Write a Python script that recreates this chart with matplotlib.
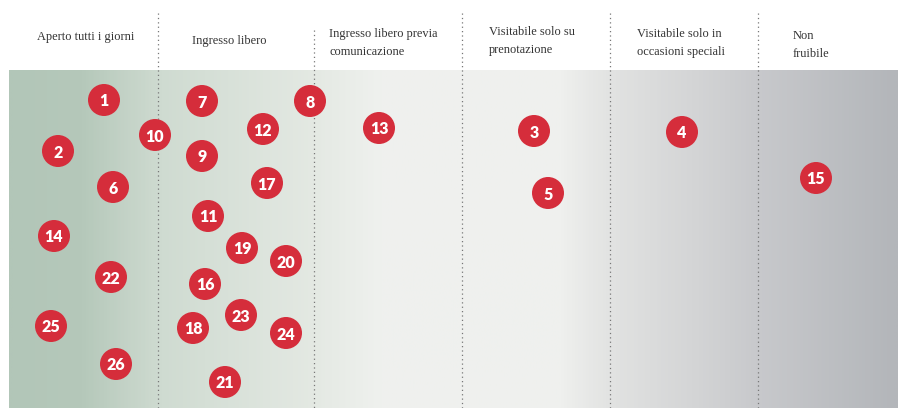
import numpy as np
import matplotlib
matplotlib.use("Agg")
import matplotlib.pyplot as plt
from matplotlib.colors import LinearSegmentedColormap
from matplotlib.patches import Circle

# category headers (one per column)
categories = [
    "Aperto tutti i giorni",
    "Ingresso libero",
    "Ingresso libero previa\ncomunicazione",
    "Visitabile solo su\nprenotazione",
    "Visitabile solo in\noccasioni speciali",
    "Non\nfruibile",
]

# site numbers and where they sit on the board
site_ids = [1, 7, 8, 2, 10, 12, 13, 9, 6, 17, 11, 14, 19, 20, 22, 16,
            25, 23, 18, 24, 26, 21, 3, 5, 4, 15]
site_x = [104, 202, 310, 58, 155, 263, 379, 202, 113, 267, 208, 54, 242, 286,
          111, 205, 51, 241, 193, 286, 116, 225, 534, 548, 682, 816]
site_y = [100, 101, 101, 151, 135, 129, 128, 156, 187, 183, 216, 236, 248, 261,
          277, 284, 326, 315, 328, 333, 364, 382, 131, 193, 132, 178]

W, H = 898, 408
fig = plt.figure(figsize=(W / 100, H / 100), dpi=100)
ax = fig.add_axes([0, 0, 1, 1])
ax.set_xlim(0, W)
ax.set_ylim(H, 0)
ax.axis("off")

# background band: green-grey -> off white -> grey
stops = [(9, "#b2c6b8"), (80, "#b5c8ba"), (160, "#cfdbd1"), (314, "#e4e9e3"),
         (380, "#eff1ee"), (560, "#eff0ee"), (610, "#e2e3e2"), (700, "#d3d4d5"),
         (758, "#c8c9cc"), (898, "#b3b6ba")]
x0, x1 = stops[0][0], stops[-1][0]
cmap = LinearSegmentedColormap.from_list(
    "band", [((p - x0) / (x1 - x0), c) for p, c in stops])
ax.imshow(np.linspace(0, 1, 600)[None, :], cmap=cmap, aspect="auto",
          extent=(x0, x1, H, 70), zorder=0, interpolation="bilinear")

# dotted separators
sep_x = [158, 314, 462, 610, 758]
sep_top = [13, 30, 13, 13, 13]
for sx, st in zip(sep_x, sep_top):
    ax.plot([sx, sx], [st, H], color="#777777", lw=0.9, ls=(0, (1, 2.5)), zorder=1)

# header labels
label_pos = [(37, 37), (192, 41), (329, 43), (489, 41), (637, 43), (793, 45)]
for txt, (lx, ly) in zip(categories, label_pos):
    ax.text(lx, ly, txt, fontsize=8.9, family="Liberation Serif", color="#333333",
            ha="left", va="center", linespacing=1.75, zorder=2)

# numbered markers
for n, cx, cy in zip(site_ids, site_x, site_y):
    ax.add_patch(Circle((cx, cy), 16, facecolor="#d52d3b", edgecolor="none", zorder=3))
    ax.text(cx, cy + 1.5, str(n), fontsize=11.5, fontweight="heavy", family="Lato",
            color="white", ha="center", va="center", zorder=4)

fig.savefig("out.png", dpi=100)
